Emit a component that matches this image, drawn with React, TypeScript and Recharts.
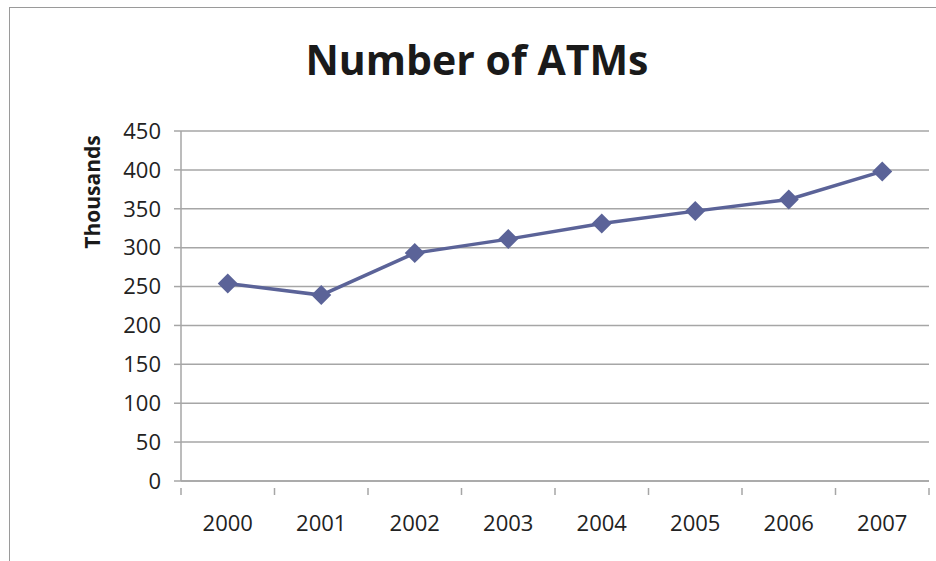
/* ── Number of ATMs line chart ── */

import React from 'react';
import { LineChart, Line, XAxis, YAxis, CartesianGrid } from 'recharts';

const years = ['2000', '2001', '2002', '2003', '2004', '2005', '2006', '2007'];
const atms = [254, 239, 293, 311, 331, 347, 362, 398];
const yTicks = [0, 50, 100, 150, 200, 250, 300, 350, 400, 450];

const data = years.map((year, i) => ({ year, atms: atms[i] }));

const W = 936;
const H = 561;
const PLOT_LEFT = 181;
const PLOT_RIGHT = 929;
const FONT = '"Open Sans", sans-serif';
const AXIS = '#a6a6a6';
const LINE = '#5b6398';

const band = (PLOT_RIGHT - PLOT_LEFT) / years.length;

function XTick(props: any) {
  const { x, y, payload, index } = props;
  const left = x - band / 2;
  return (
    <g>
      <line x1={left} y1={y - 1} x2={left} y2={y + 6} stroke={AXIS} strokeWidth={1.5} />
      {index === years.length - 1 && (
        <line x1={x + band / 2} y1={y - 1} x2={x + band / 2} y2={y + 6} stroke={AXIS} strokeWidth={1.5} />
      )}
      <text x={x} y={y + 42} textAnchor="middle" fill="#222" fontSize={22} fontFamily={FONT}>
        {payload.value}
      </text>
    </g>
  );
}

function Diamond(props: any) {
  const { cx, cy, index } = props;
  const r = 10;
  return (
    <polygon
      key={`d-${index}`}
      points={`${cx},${cy - r} ${cx + r},${cy} ${cx},${cy + r} ${cx - r},${cy}`}
      fill={LINE}
    />
  );
}

export default function App() {
  return (
    <div style={{ position: 'absolute', left: 0, top: 0, width: W, height: H, background: '#fff' }}>
      <div
        style={{
          position: 'absolute',
          left: 9,
          top: 7,
          width: W - 9,
          height: H - 7,
          borderLeft: `1.5px solid #9a9a9a`,
          borderTop: `1.5px solid #9a9a9a`,
          boxSizing: 'border-box',
        }}
      />
      <div
        style={{
          position: 'absolute',
          left: 0,
          width: W - 18,
          paddingLeft: 18,
          top: 32,
          textAlign: 'center',
          fontFamily: FONT,
          fontWeight: 700,
          fontSize: 41,
          color: '#1a1a1a',
          lineHeight: '54px',
        }}
      >
        Number of ATMs
      </div>
      <div
        style={{
          position: 'absolute',
          left: 92,
          top: 192,
          transform: 'translate(-50%, -50%) rotate(-90deg)',
          fontFamily: FONT,
          fontWeight: 700,
          fontSize: 21,
          color: '#1a1a1a',
          whiteSpace: 'nowrap',
        }}
      >
        Thousands
      </div>
      <div style={{ position: 'absolute', left: 0, top: 0 }}>
        <LineChart
          width={W}
          height={H}
          data={data}
          margin={{ top: 131, right: W - PLOT_RIGHT, bottom: 0, left: 0 }}
        >
          <CartesianGrid horizontal vertical={false} stroke={AXIS} strokeWidth={1.5} />
          <XAxis
            dataKey="year"
            axisLine={{ stroke: AXIS, strokeWidth: 1.5 }}
            tickLine={false}
            tick={<XTick />}
            height={80}
            interval={0}
            padding={{ left: band / 2, right: band / 2 }}
          />
          <YAxis
            width={PLOT_LEFT}
            domain={[0, 450]}
            ticks={yTicks}
            interval={0}
            axisLine={{ stroke: AXIS, strokeWidth: 1.5 }}
            tickLine={{ stroke: AXIS, strokeWidth: 1.5 }}
            tickSize={7}
            tickMargin={13}
            tick={{ fill: '#222', fontSize: 22, fontFamily: FONT }}
          />
          <Line
            type="linear"
            dataKey="atms"
            stroke={LINE}
            strokeWidth={3.5}
            dot={Diamond}
            activeDot={false}
            isAnimationActive={false}
          />
        </LineChart>
      </div>
    </div>
  );
}
